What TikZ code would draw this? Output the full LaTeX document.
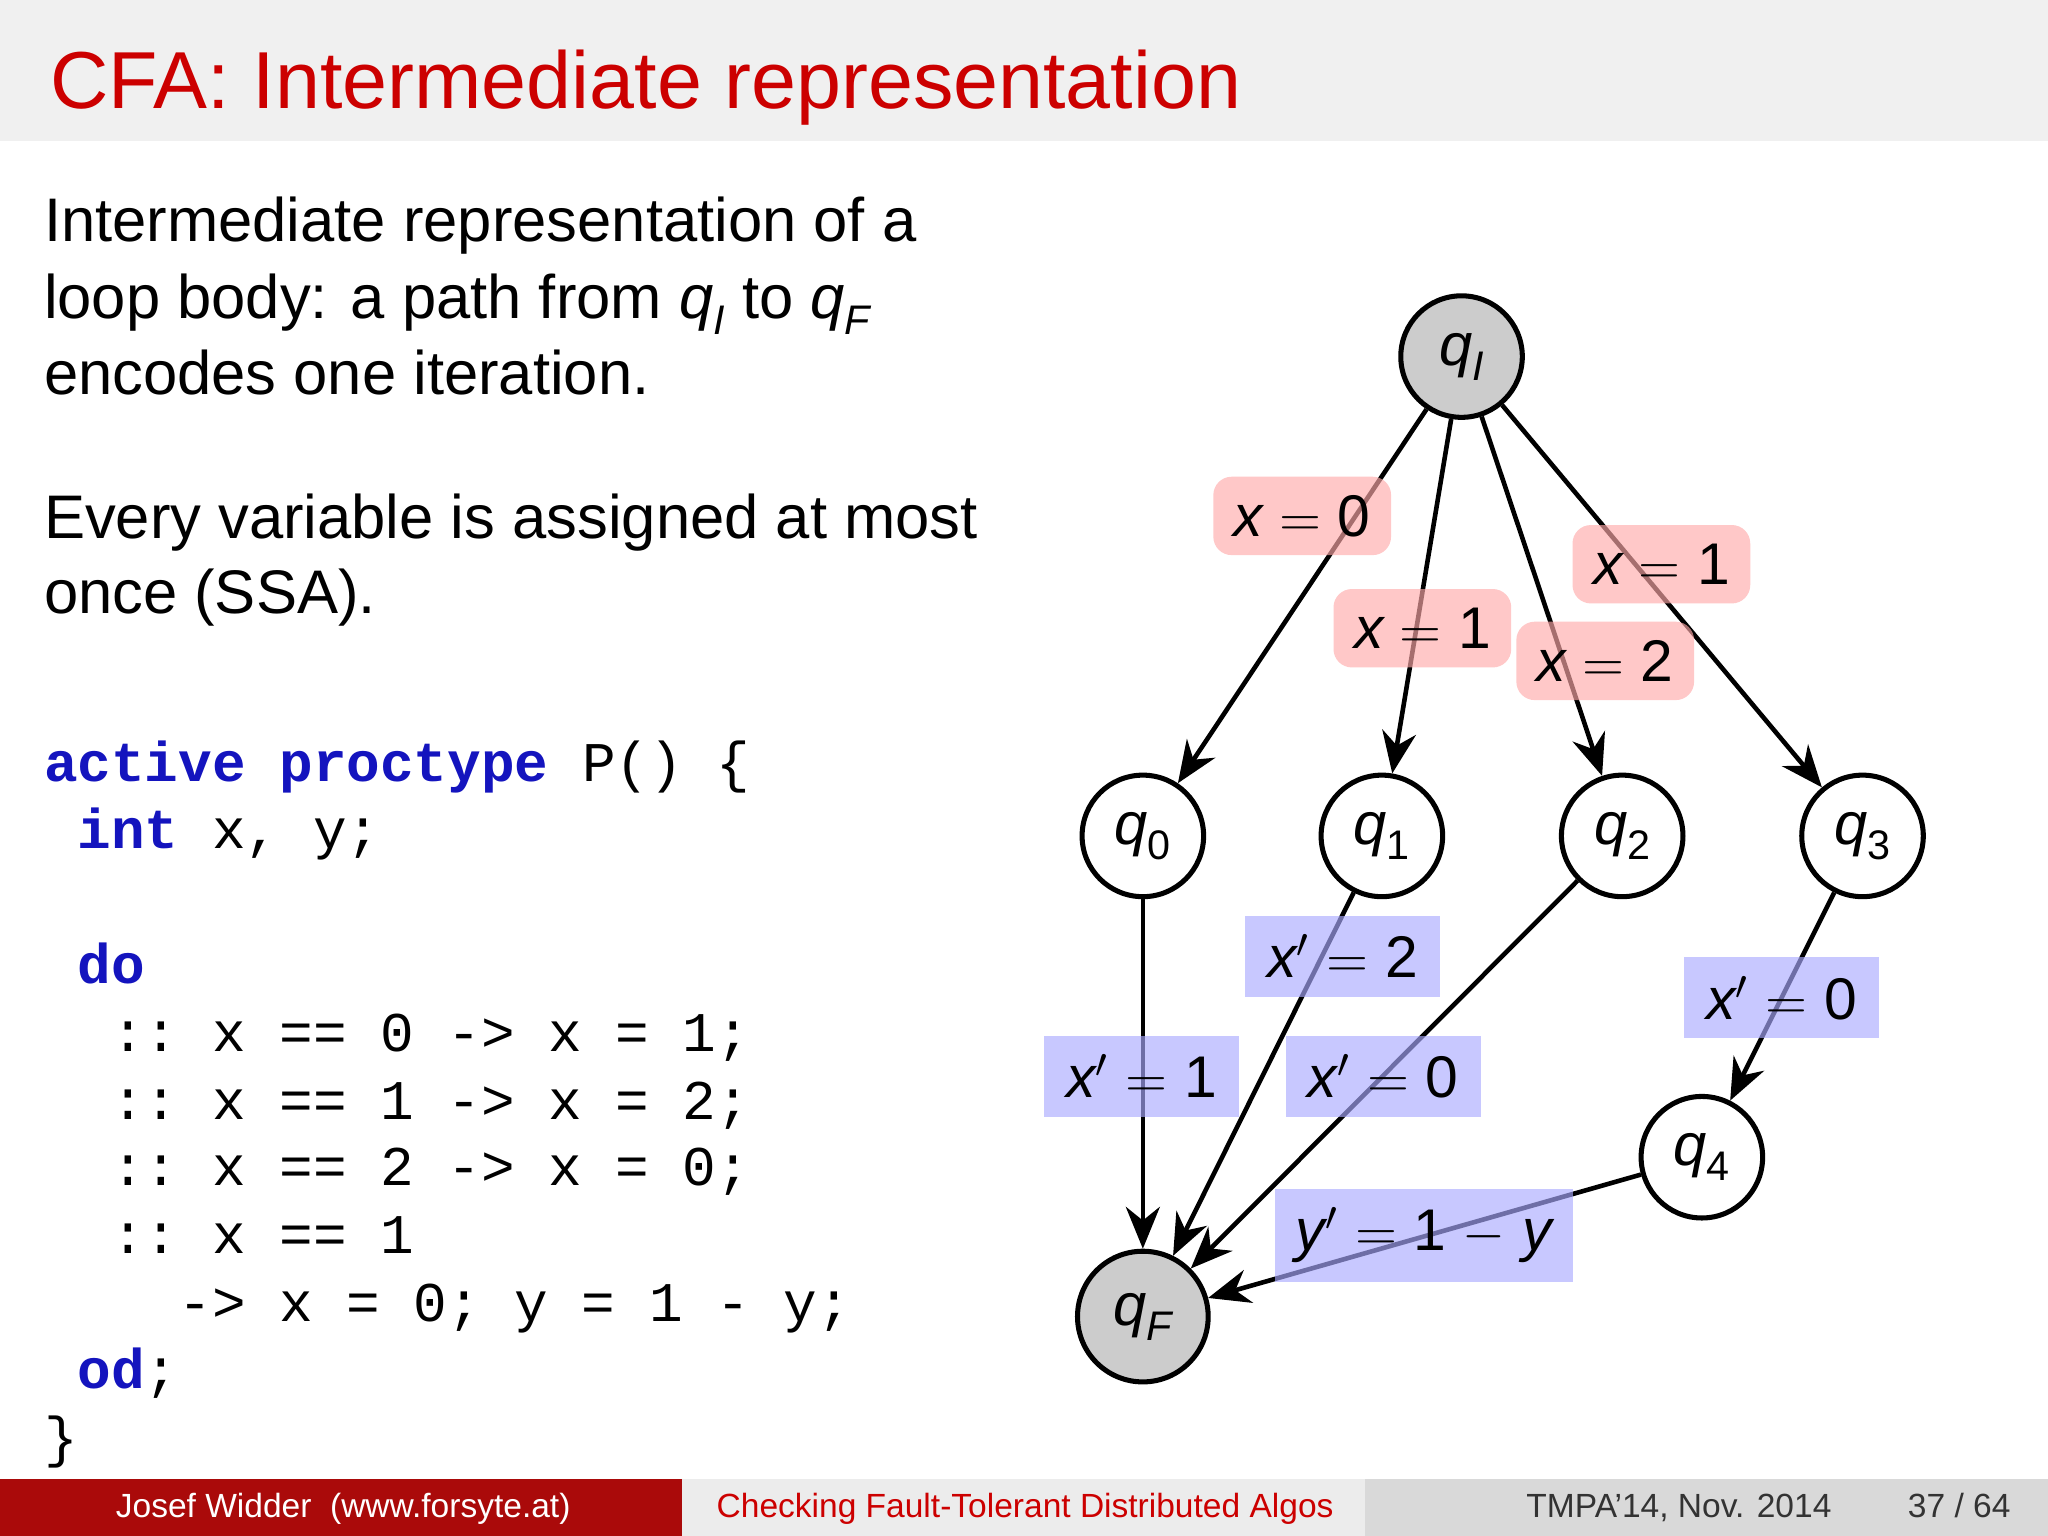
\documentclass[tikz,border=0pt]{standalone}
\usepackage{fontspec}
\setmainfont{Liberation Sans}
\setmonofont{Liberation Mono}
\usetikzlibrary{arrows.meta}
\definecolor{titlered}{RGB}{204,0,0}
\definecolor{footred}{RGB}{170,10,10}
\definecolor{kw}{RGB}{20,20,190}
\definecolor{pinkbox}{RGB}{255,170,170}
\definecolor{bluebox}{RGB}{170,170,255}
\newcommand{\qq}[1]{{\itshape q}\raisebox{-0.25em}{\small #1}}
\newcommand{\vv}[1]{{\itshape #1}}
\newcommand{\kwd}[1]{{\bfseries\color{kw}#1}}
\begin{document}
\begin{tikzpicture}[x=0.01cm,y=-0.01cm,
  st/.style={circle,draw,line width=1.1pt,minimum size=0.93cm,inner sep=0pt,font=\fontsize{13}{15}\selectfont},
  gst/.style={st,fill=gray!40},
  ed/.style={line width=1pt,-{Stealth[length=3.2mm,width=2.6mm]}},
  rl/.style={fill=pinkbox,fill opacity=0.65,text opacity=1,rounded corners=4pt,minimum width=1.36cm,minimum height=0.6cm,inner sep=0pt,font=\fontsize{12.8}{15}\selectfont},
  bl/.style={fill=bluebox,fill opacity=0.65,text opacity=1,minimum width=1.49cm,minimum height=0.62cm,inner sep=0pt,font=\fontsize{12.8}{15}\selectfont},
  body/.style={anchor=base west,inner sep=0pt,font=\fontsize{13.4}{16}\selectfont},
  code/.style={anchor=base west,inner sep=0pt,font=\ttfamily\fontsize{12.2}{14}\selectfont}]
\useasboundingbox (0,0) rectangle (1568,1176);
\fill[gray!12] (0,0) rectangle (1568,108);
\node[anchor=base west,inner sep=0pt,text=titlered,font=\fontsize{17.6}{20}\selectfont] (title) at (38,83) {CFA: Intermediate representation};
% body text
\node[body] (t1) at (33,185) {Intermediate representation of a};
\node[body] (t2) at (33,244) {loop body: a path from \qq{\itshape I} to \qq{\itshape F}};
\node[body] (t3) at (33,302) {encodes one iteration.};
\node[body] (t4) at (33,412) {Every variable is assigned at most};
\node[body] (t5) at (33,470) {once (SSA).};
% code
\node[code] (c1) at (33,598) {\kwd{active}~\kwd{proctype}~P()~\{};
\node[code] (c2) at (33,650) {~\kwd{int}~x,~y;};
\node[code] (c3) at (33,753) {~\kwd{do}};
\node[code] (c4) at (33,805) {~~::~x~==~0~->~x~=~1;};
\node[code] (c5) at (33,857) {~~::~x~==~1~->~x~=~2;};
\node[code] (c6) at (33,908) {~~::~x~==~2~->~x~=~0;};
\node[code] (c7) at (33,960) {~~::~x~==~1};
\node[code] (c8) at (33,1012) {~~~~->~x~=~0;~y~=~1~-~y;};
\node[code] (c9) at (33,1063) {~\kwd{od};};
\node[code] (c10) at (33,1115) {\}};
% graph
\node[gst] (qI) at (1119,273) {\qq{\itshape I}};
\node[st] (q0) at (875,640) {\qq{0}};
\node[st] (q1) at (1058,640) {\qq{1}};
\node[st] (q2) at (1242,640) {\qq{2}};
\node[st] (q3) at (1426,640) {\qq{3}};
\node[st] (q4) at (1303,886) {\qq{4}};
\node[gst,minimum size=1.0cm] (qF) at (875,1008) {\qq{\itshape F}};
\draw[ed] (qI) -- (q0);
\draw[ed] (qI) -- (q1);
\draw[ed] (qI) -- (q2);
\draw[ed] (qI) -- (q3);
\draw[ed] (q0) -- (qF);
\draw[ed] (q1) -- (qF);
\draw[ed] (q2) -- (qF);
\draw[ed] (q3) -- (q4);
\draw[ed] (q4) -- (qF);
\node[rl] (l1) at (997,395) {\vv{x} $=$ 0};
\node[rl] (l2) at (1089,481) {\vv{x} $=$ 1};
\node[rl] (l3) at (1272,432) {\vv{x} $=$ 1};
\node[rl] (l4) at (1229,506) {\vv{x} $=$ 2};
\node[bl] (b1) at (1028,732) {\vv{x}$'$ $=$ 2};
\node[bl] (b2) at (874,824) {\vv{x}$'$ $=$ 1};
\node[bl] (b3) at (1059,824) {\vv{x}$'$ $=$ 0};
\node[bl] (b4) at (1364,764) {\vv{x}$'$ $=$ 0};
\node[bl,minimum width=2.28cm,minimum height=0.71cm] (b5) at (1090,946) {\vv{y}$'$ $=$ 1 $-$ \vv{y}};
% footer
\fill[footred] (0,1132) rectangle (522,1176);
\fill[gray!15] (522,1132) rectangle (1045,1176);
\fill[gray!30] (1045,1132) rectangle (1568,1176);
\node[anchor=base west,inner sep=0pt,text=white,font=\fontsize{7.3}{8}\selectfont] (f1) at (88,1162) {Josef Widder\ \ (www.forsyte.at)};
\node[anchor=base west,inner sep=0pt,text=titlered,font=\fontsize{7.3}{8}\selectfont] (f2) at (548,1162) {Checking Fault-Tolerant Distributed Algos};
\node[anchor=base west,inner sep=0pt,text=black!80,font=\fontsize{7.3}{8}\selectfont] (f3) at (1168,1162) {TMPA'14, Nov. 2014};
\node[anchor=base east,inner sep=0pt,text=black!80,font=\fontsize{7.3}{8}\selectfont] (f4) at (1540,1162) {37 / 64};
\end{tikzpicture}
\end{document}
